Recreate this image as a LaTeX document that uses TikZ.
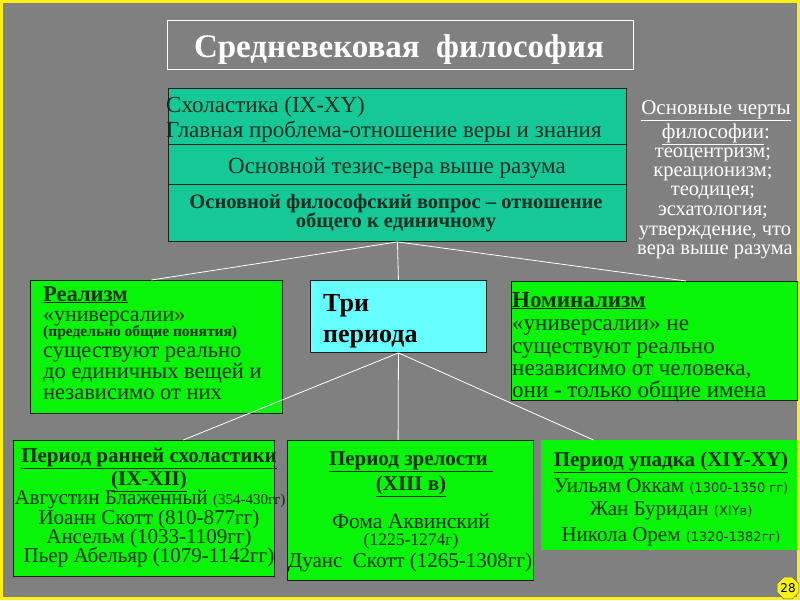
\documentclass[tikz,border=0pt]{standalone}
\usepackage{fontspec}
\setmainfont{Liberation Serif}
\newfontfamily\dvsans{DejaVu Sans}
\usetikzlibrary{calc,shapes.geometric}
\definecolor{bgc}{RGB}{128,128,128}
\definecolor{frame}{RGB}{250,240,20}
\definecolor{tealc}{RGB}{22,200,150}
\definecolor{greenc}{RGB}{8,245,8}
\definecolor{cyanc}{RGB}{102,255,255}
\definecolor{ink}{RGB}{10,45,10}
\definecolor{tink}{RGB}{10,45,35}
\definecolor{edge}{RGB}{25,35,25}
\tikzset{
  box/.style={draw=edge, line width=0.9pt, inner sep=0pt, anchor=north west},
  conn/.style={draw=white, line width=0.8pt},
  txt/.style={inner sep=0pt, text=ink},
  ttxt/.style={inner sep=0pt, text=tink},
  wtxt/.style={inner sep=0pt, text=white},
}
\newcommand{\ulx}[1]{\underline{#1}}
\begin{document}
\begin{tikzpicture}[x=1pt,y=-1pt]
\fill[frame] (0,0) rectangle (800,600);
\fill[bgc] (3,3) rectangle (797,597);
\useasboundingbox (0,0) rectangle (800,600);

% title
\node[draw=white, line width=0.9pt, inner sep=0pt, anchor=north west, minimum width=466, minimum height=49] (title) at (167,20) {};
\node[wtxt, font=\fontsize{33}{33}\selectfont\bfseries, anchor=base] (titletext) at (399,57) {Средневековая\ \ философия};

% teal block
\node[box, fill=tealc, minimum width=458, minimum height=56] (s1) at (168,88) {};
\node[box, fill=tealc, minimum width=458, minimum height=40] (s2) at (168,144) {};
\node[box, fill=tealc, minimum width=458, minimum height=57] (s3) at (168,184) {};
\node[ttxt, font=\fontsize{23}{23}\selectfont, anchor=base west] (s1a) at (166,112) {Схоластика (IX-XY)};
\node[ttxt, font=\fontsize{23}{23}\selectfont, anchor=base west] (s1b) at (166,137) {Главная проблема-отношение веры и знания};
\node[ttxt, font=\fontsize{23}{23}\selectfont, anchor=base] (s2a) at (397,173) {Основной тезис-вера выше разума};
\node[ttxt, font=\fontsize{20.5}{20}\selectfont\bfseries, anchor=base] (s3a) at (396,208) {Основной философский вопрос -- отношение};
\node[ttxt, font=\fontsize{20.5}{20}\selectfont\bfseries, anchor=base] (s3b) at (396,227) {общего к единичному};

% right features
\node[wtxt, font=\fontsize{21}{21}\selectfont, anchor=base] (f1) at (716,114) {\ulx{Основные черты}};
\node[wtxt, font=\fontsize{21}{21}\selectfont, anchor=base] (f2) at (716,138) {\ulx{философии}:};
\node[wtxt, font=\fontsize{20.5}{20}\selectfont, anchor=base] (f3) at (713,157) {теоцентризм;};
\node[wtxt, font=\fontsize{20.5}{20}\selectfont, anchor=base] (f4) at (713,176) {креационизм;};
\node[wtxt, font=\fontsize{20.5}{20}\selectfont, anchor=base] (f5) at (713,195) {теодицея;};
\node[wtxt, font=\fontsize{20.5}{20}\selectfont, anchor=base] (f6) at (713,215) {эсхатология;};
\node[wtxt, font=\fontsize{20.5}{20}\selectfont, anchor=base] (f7) at (715,235) {утверждение, что};
\node[wtxt, font=\fontsize{20.5}{20}\selectfont, anchor=base] (f8) at (715,254) {вера выше разума};

% realism
\node[box, fill=greenc, minimum width=252, minimum height=133] (real) at (30,280) {};
\node[txt, font=\fontsize{22.5}{22}\selectfont\bfseries, anchor=base west] (r1) at (43,301) {\ulx{Реализм}};
\node[txt, font=\fontsize{22}{22}\selectfont, anchor=base west] (r2) at (43,321) {«универсалии»};
\node[txt, font=\fontsize{15.5}{15}\selectfont\bfseries, anchor=base west] (r3) at (43,336) {(предельно общие понятия)};
\node[txt, font=\fontsize{22.5}{22}\selectfont, anchor=base west] (r4) at (43,357) {существуют реально};
\node[txt, font=\fontsize{22.5}{22}\selectfont, anchor=base west] (r5) at (43,378) {до единичных вещей и};
\node[txt, font=\fontsize{22.5}{22}\selectfont, anchor=base west] (r6) at (43,399) {независимо от них};

% three periods
\node[box, fill=cyanc, minimum width=176, minimum height=72] (tri) at (310,280) {};
\node[inner sep=0pt, text=black, font=\fontsize{26}{26}\selectfont\bfseries, anchor=base west] (t1) at (323,311) {Три};
\node[inner sep=0pt, text=black, font=\fontsize{26}{26}\selectfont\bfseries, anchor=base west] (t2) at (323,342) {периода};

% nominalism
\node[box, fill=greenc, minimum width=286, minimum height=119] (nom) at (511,281) {};
\node[txt, font=\fontsize{23}{23}\selectfont\bfseries, anchor=base west] (n1) at (512,307) {\ulx{Номинализм}};
\node[txt, font=\fontsize{23}{23}\selectfont, anchor=base west] (n2) at (512,330) {«универсалии» не};
\node[txt, font=\fontsize{23}{23}\selectfont, anchor=base west] (n3) at (512,353) {существуют реально};
\node[txt, font=\fontsize{23}{23}\selectfont, anchor=base west] (n4) at (512,375) {независимо от человека,};
\node[txt, font=\fontsize{23}{23}\selectfont, anchor=base west] (n5) at (512,397) {они - только общие имена};

% bottom left
\node[box, fill=greenc, minimum width=261, minimum height=136] (b1) at (13,440) {};
\node[txt, font=\fontsize{21}{21}\selectfont\bfseries, anchor=base] (b1a) at (149,462) {\ulx{Период ранней схоластики}};
\node[txt, font=\fontsize{21}{21}\selectfont\bfseries, anchor=base] (b1b) at (149,485) {\ulx{(IX-XII)}};
\node[txt, font=\fontsize{21}{21}\selectfont, anchor=base] (b1c) at (150,504) {Августин Блаженный {\fontsize{15}{15}\selectfont(354-430гг)}};
\node[txt, font=\fontsize{21}{21}\selectfont, anchor=base] (b1d) at (149,524) {Иоанн Скотт (810-877гг)};
\node[txt, font=\fontsize{21}{21}\selectfont, anchor=base] (b1e) at (149,543) {Ансельм (1033-1109гг)};
\node[txt, font=\fontsize{21}{21}\selectfont, anchor=base] (b1f) at (149,562) {Пьер Абельяр (1079-1142гг)};

% bottom middle
\node[box, fill=greenc, minimum width=246, minimum height=140] (b2) at (287,440) {};
\node[txt, font=\fontsize{21}{21}\selectfont\bfseries, anchor=base] (b2a) at (411,465) {\ulx{Период зрелости\ }};
\node[txt, font=\fontsize{21}{21}\selectfont\bfseries, anchor=base] (b2b) at (411,490) {\ulx{(XIII в)}};
\node[txt, font=\fontsize{21.5}{21}\selectfont, anchor=base] (b2c) at (411,528) {Фома Аквинский};
\node[txt, font=\fontsize{17.5}{17}\selectfont, anchor=base] (b2d) at (411,545) {(1225-1274г)};
\node[txt, font=\fontsize{21}{21}\selectfont, anchor=base] (b2e) at (410,567) {Дуанс\ \ Скотт (1265-1308гг)};

% bottom right
\node[inner sep=0pt, anchor=north west, fill=greenc, minimum width=256, minimum height=110] (b3) at (541,440) {};
\node[txt, font=\fontsize{21}{21}\selectfont\bfseries, anchor=base] (b3a) at (671,466) {\ulx{Период упадка (XIY-XY)}};
\node[txt, font=\fontsize{21}{21}\selectfont, anchor=base] (b3b) at (671,492) {Уильям Оккам {\dvsans\fontsize{13}{13}\selectfont(1300-1350 гг)}};
\node[txt, font=\fontsize{21}{21}\selectfont, anchor=base] (b3c) at (671,515) {Жан Буридан {\dvsans\fontsize{13}{13}\selectfont(XIYв)}};
\node[txt, font=\fontsize{21}{21}\selectfont, anchor=base] (b3d) at (671,541) {Никола Орем {\dvsans\fontsize{13}{13}\selectfont(1320-1382гг)}};

% connectors
\draw[conn] (s3.south) -- (tri.north);
\draw[conn] (s3.south) -- ($(real.north west)!0.48!(real.north east)$);
\draw[conn] (s3.south) -- ($(nom.north west)!0.61!(nom.north east)$);
\draw[conn] (tri.south) -- ($(b1.north west)!0.65!(b1.north east)$);
\draw[conn] (tri.south) -- ($(b2.north west)!0.45!(b2.north east)$);
\draw[conn] (tri.south) -- ($(b3.north west)!0.205!(b3.north east)$);

% page number
\node[regular polygon, regular polygon sides=8, fill=frame, draw=black!60, line width=0.4pt, inner sep=0pt, minimum size=21pt, font=\dvsans\fontsize{12}{12}\selectfont] (pg) at (788,588) {28};
\end{tikzpicture}
\end{document}
